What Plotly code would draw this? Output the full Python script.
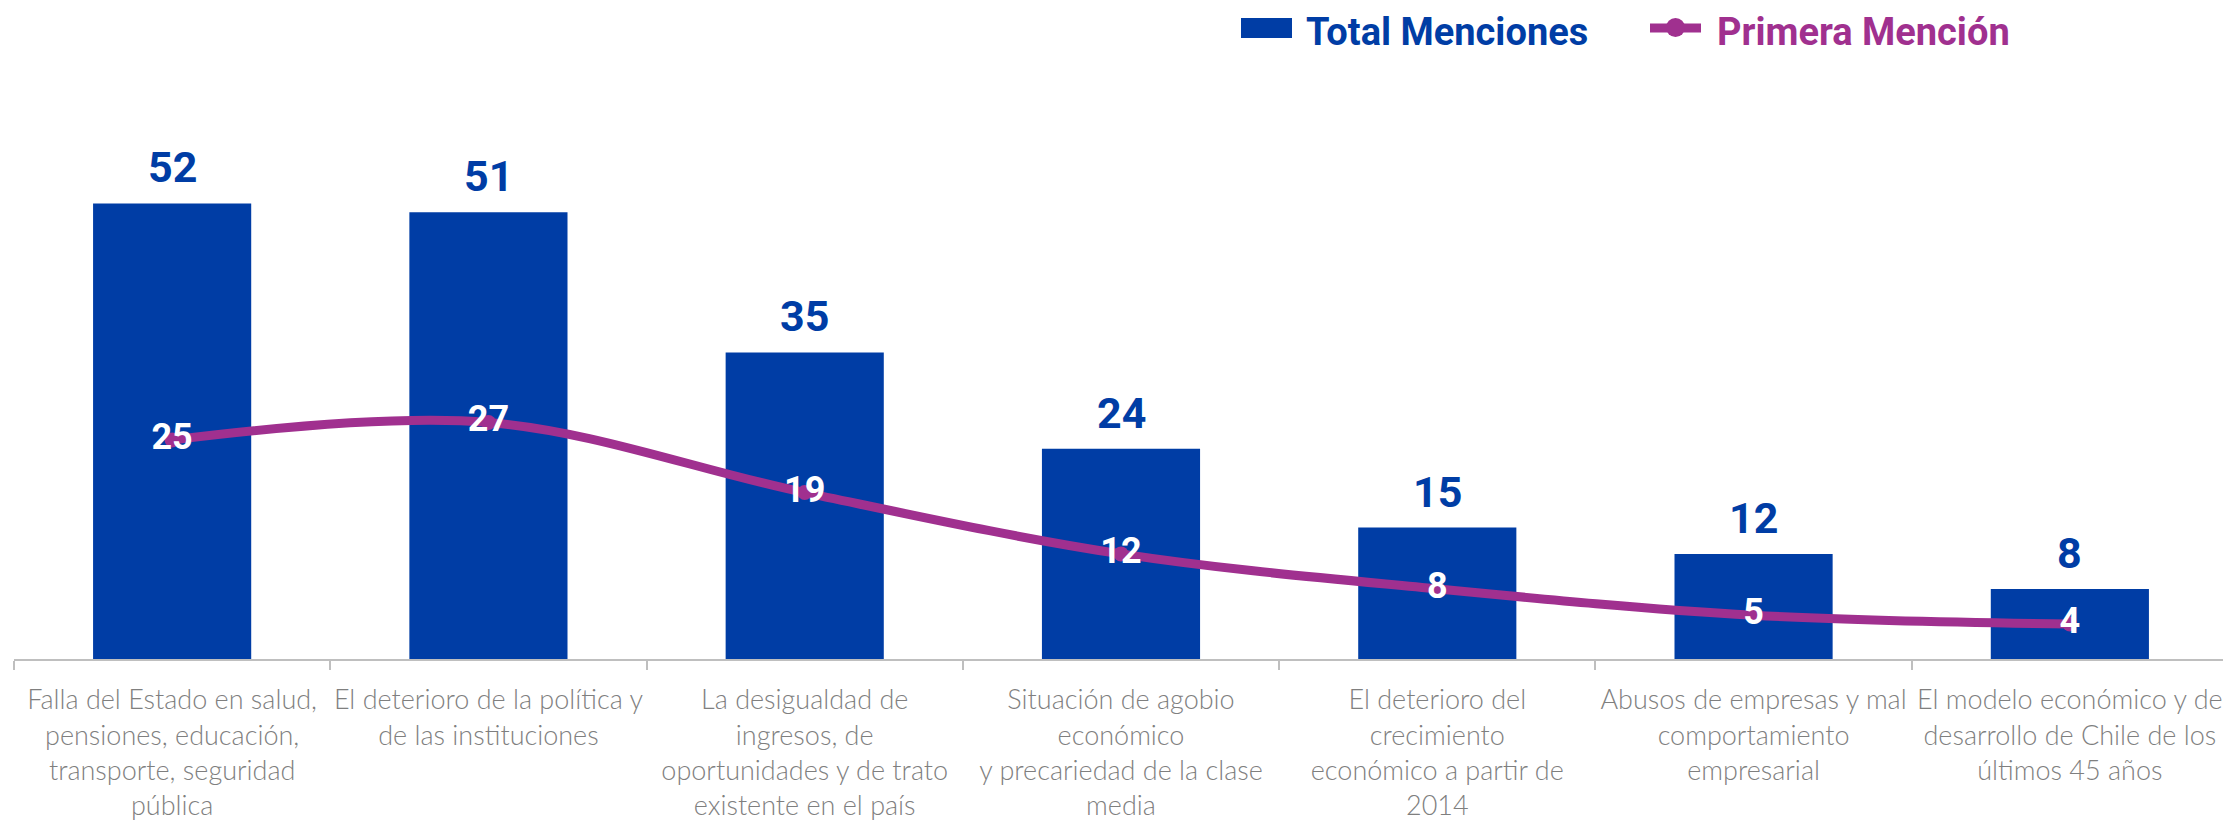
import plotly.graph_objects as go

categorias = [
    "Falla del Estado en salud,<br>pensiones, educación,<br>transporte, seguridad<br>pública",
    "El deterioro de la política y<br>de las instituciones",
    "La desigualdad de<br>ingresos, de<br>oportunidades y de trato<br>existente en el país",
    "Situación de agobio<br>económico<br>y precariedad de la clase<br>media",
    "El deterioro del<br>crecimiento<br>económico a partir de<br>2014",
    "Abusos de empresas y mal<br>comportamiento<br>empresarial",
    "El modelo económico y de<br>desarrollo de Chile de los<br>últimos 45 años",
]
total_menciones = [52, 51, 35, 24, 15, 12, 8]
primera_mencion = [25, 27, 19, 12, 8, 5, 4]

AZUL = "#003DA5"
MORADO = "#A0308F"
GRIS = "#7F7F7F"

# the page body has an 8px margin, so the figure is a little smaller
OFF = 8
W, H = 2231 - OFF, 824 - OFF
ML, MR, MT, MB = 14 - OFF, 3, 100 - OFF, 165
PW, PH = W - ML - MR, H - MT - MB


def px_x(x):
    return (x - OFF - ML) / PW


def px_y(y):
    return (H - MB - (y - OFF)) / PH


fig = go.Figure()

fig.add_trace(go.Bar(
    x=categorias, y=total_menciones, name="Total Menciones",
    marker=dict(color=AZUL, line=dict(width=0)),
    hoverinfo="skip",
))

fig.add_trace(go.Scatter(
    x=categorias, y=primera_mencion, name="Primera Mención",
    mode="lines+markers+text",
    line=dict(color=MORADO, width=9, shape="spline", smoothing=1),
    marker=dict(color=MORADO, size=15),
    text=[str(v) for v in primera_mencion],
    textposition="middle center",
    textfont=dict(family="Roboto", size=36, color="white", weight="bold"),
    hoverinfo="skip",
))

# etiquetas sobre las barras
for c, v in zip(categorias, total_menciones):
    fig.add_annotation(
        x=c, y=v, text=str(v), showarrow=False,
        yanchor="middle", yshift=36,
        font=dict(family="Roboto", size=43, color=AZUL, weight="bold"),
    )

# leyenda hecha a mano
fig.add_shape(type="rect", xref="paper", yref="paper",
              x0=px_x(1241), x1=px_x(1292), y0=px_y(38), y1=px_y(18),
              fillcolor=AZUL, line=dict(width=0))
fig.add_annotation(xref="paper", yref="paper", x=px_x(1305), y=px_y(32),
                   xanchor="left", yanchor="middle", showarrow=False,
                   text="Total Menciones", borderpad=0,
                   font=dict(family="Roboto", size=38, color=AZUL, weight="bold"))
fig.add_shape(type="line", xref="paper", yref="paper",
              x0=px_x(1650), x1=px_x(1701), y0=px_y(28), y1=px_y(28),
              line=dict(color=MORADO, width=9))
fig.add_shape(type="circle", xref="paper", yref="paper",
              x0=px_x(1666), x1=px_x(1685), y0=px_y(37), y1=px_y(18),
              fillcolor=MORADO, line=dict(width=0))
fig.add_annotation(xref="paper", yref="paper", x=px_x(1716), y=px_y(32),
                   xanchor="left", yanchor="middle", showarrow=False,
                   text="Primera Mención", borderpad=0,
                   font=dict(family="Roboto", size=38, color=MORADO, weight="bold"))

fig.update_layout(
    width=W, height=H,
    margin=dict(l=ML, r=MR, t=MT, b=MB, autoexpand=False),
    plot_bgcolor="white", paper_bgcolor="white",
    showlegend=False,
    bargap=0.5,
)

fig.update_xaxes(
    range=[-0.5, 6.5], automargin=False, tickangle=0,
    showline=True, linecolor="#BFBFBF", linewidth=2,
    ticks="outside", tickson="boundaries", ticklen=9, tickcolor="#BFBFBF", tickwidth=2,
    ticklabelstandoff=16,
    tickfont=dict(family="Lato", size=27, color=GRIS, weight=300),
    showgrid=False,
)
fig.update_yaxes(range=[0, PH / 8.76], visible=False, showgrid=False)

fig.write_html("out.html")
